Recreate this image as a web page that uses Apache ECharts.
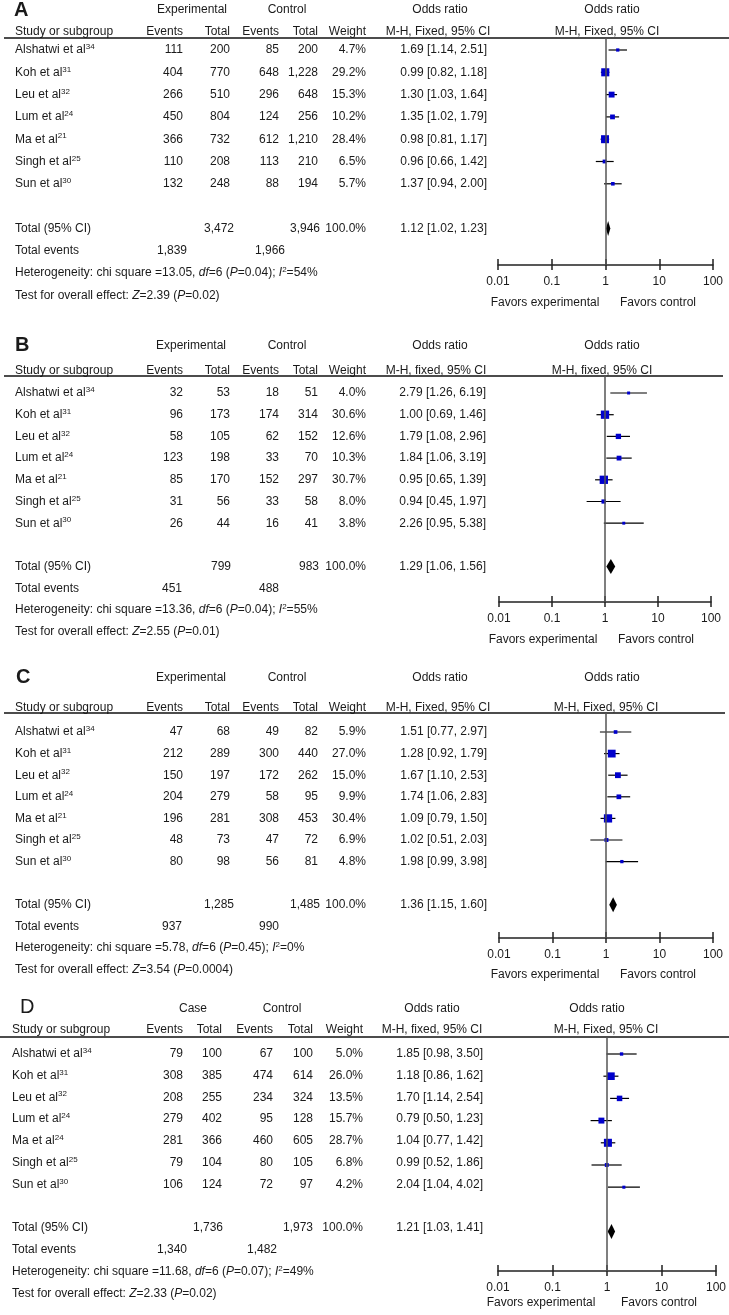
<!DOCTYPE html>
<html><head><meta charset="utf-8">
<script src="https://cdn.jsdelivr.net/npm/echarts@6/dist/echarts.min.js"></script>
<style>html,body{margin:0;padding:0;background:#fff}#c{width:729px;height:1315px}</style>
</head><body><div id="c"></div>
<script>
// ---------------- DATA ----------------
const studies = ['Alshatwi et al', 'Koh et al', 'Leu et al', 'Lum et al', 'Ma et al', 'Singh et al', 'Sun et al'];
const refsABC = ['34', '31', '32', '24', '21', '25', '30'];
const refsD = ['34', '31', '32', '24', '24', '25', '30'];
const tickLabels = ['0.01', '0.1', '1', '10', '100'];

// Panel A
const A_expEvents = [111, 404, 266, 450, 366, 110, 132];
const A_expTotal = [200, 770, 510, 804, 732, 208, 248];
const A_ctlEvents = [85, 648, 296, 124, 612, 113, 88];
const A_ctlTotal = [200, 1228, 648, 256, 1210, 210, 194];
const A_weight = [4.7, 29.2, 15.3, 10.2, 28.4, 6.5, 5.7];
const A_or = [1.69, 0.99, 1.30, 1.35, 0.98, 0.96, 1.37];
const A_lo = [1.14, 0.82, 1.03, 1.02, 0.81, 0.66, 0.94];
const A_hi = [2.51, 1.18, 1.64, 1.79, 1.17, 1.42, 2.00];
const A_totals = [3472, 3946];
const A_pooled = [1.12, 1.02, 1.23];
const A_totalEvents = [1839, 1966];
const A_het = ['13.05', '6', '0.04', '54'];
const A_test = ['2.39', '0.02'];

// Panel B
const B_expEvents = [32, 96, 58, 123, 85, 31, 26];
const B_expTotal = [53, 173, 105, 198, 170, 56, 44];
const B_ctlEvents = [18, 174, 62, 33, 152, 33, 16];
const B_ctlTotal = [51, 314, 152, 70, 297, 58, 41];
const B_weight = [4.0, 30.6, 12.6, 10.3, 30.7, 8.0, 3.8];
const B_or = [2.79, 1.00, 1.79, 1.84, 0.95, 0.94, 2.26];
const B_lo = [1.26, 0.69, 1.08, 1.06, 0.65, 0.45, 0.95];
const B_hi = [6.19, 1.46, 2.96, 3.19, 1.39, 1.97, 5.38];
const B_totals = [799, 983];
const B_pooled = [1.29, 1.06, 1.56];
const B_totalEvents = [451, 488];
const B_het = ['13.36', '6', '0.04', '55'];
const B_test = ['2.55', '0.01'];

// Panel C
const C_expEvents = [47, 212, 150, 204, 196, 48, 80];
const C_expTotal = [68, 289, 197, 279, 281, 73, 98];
const C_ctlEvents = [49, 300, 172, 58, 308, 47, 56];
const C_ctlTotal = [82, 440, 262, 95, 453, 72, 81];
const C_weight = [5.9, 27.0, 15.0, 9.9, 30.4, 6.9, 4.8];
const C_or = [1.51, 1.28, 1.67, 1.74, 1.09, 1.02, 1.98];
const C_lo = [0.77, 0.92, 1.10, 1.06, 0.79, 0.51, 0.99];
const C_hi = [2.97, 1.79, 2.53, 2.83, 1.50, 2.03, 3.98];
const C_totals = [1285, 1485];
const C_pooled = [1.36, 1.15, 1.60];
const C_totalEvents = [937, 990];
const C_het = ['5.78', '6', '0.45', '0'];
const C_test = ['3.54', '0.0004'];

// Panel D
const D_expEvents = [79, 308, 208, 279, 281, 79, 106];
const D_expTotal = [100, 385, 255, 402, 366, 104, 124];
const D_ctlEvents = [67, 474, 234, 95, 460, 80, 72];
const D_ctlTotal = [100, 614, 324, 128, 605, 105, 97];
const D_weight = [5.0, 26.0, 13.5, 15.7, 28.7, 6.8, 4.2];
const D_or = [1.85, 1.18, 1.70, 0.79, 1.04, 0.99, 2.04];
const D_lo = [0.98, 0.86, 1.14, 0.50, 0.77, 0.52, 1.04];
const D_hi = [3.50, 1.62, 2.54, 1.23, 1.42, 1.86, 4.02];
const D_totals = [1736, 1973];
const D_pooled = [1.21, 1.03, 1.41];
const D_totalEvents = [1340, 1482];
const D_het = ['11.68', '6', '0.07', '49'];
const D_test = ['2.33', '0.02'];

// ---------------- PANEL DEFINITIONS ----------------
const panels = [
  {letter: 'A', bold: true, grp1: 'Experimental', orHdr: 'M-H, Fixed, 95% CI', forestHdr: 'M-H, Fixed, 95% CI', refs: refsABC,
   expE: A_expEvents, expT: A_expTotal, ctlE: A_ctlEvents, ctlT: A_ctlTotal, wt: A_weight, or: A_or, lo: A_lo, hi: A_hi,
   totals: A_totals, pooled: A_pooled, totEv: A_totalEvents, het: A_het, test: A_test},
  {letter: 'B', bold: true, grp1: 'Experimental', orHdr: 'M-H, fixed, 95% CI', forestHdr: 'M-H, fixed, 95% CI', refs: refsABC,
   expE: B_expEvents, expT: B_expTotal, ctlE: B_ctlEvents, ctlT: B_ctlTotal, wt: B_weight, or: B_or, lo: B_lo, hi: B_hi,
   totals: B_totals, pooled: B_pooled, totEv: B_totalEvents, het: B_het, test: B_test},
  {letter: 'C', bold: true, grp1: 'Experimental', orHdr: 'M-H, Fixed, 95% CI', forestHdr: 'M-H, Fixed, 95% CI', refs: refsABC,
   expE: C_expEvents, expT: C_expTotal, ctlE: C_ctlEvents, ctlT: C_ctlTotal, wt: C_weight, or: C_or, lo: C_lo, hi: C_hi,
   totals: C_totals, pooled: C_pooled, totEv: C_totalEvents, het: C_het, test: C_test},
  {letter: 'D', bold: false, grp1: 'Case', orHdr: 'M-H, fixed, 95% CI', forestHdr: 'M-H, Fixed, 95% CI', refs: refsD,
   expE: D_expEvents, expT: D_expTotal, ctlE: D_ctlEvents, ctlT: D_ctlTotal, wt: D_weight, or: D_or, lo: D_lo, hi: D_hi,
   totals: D_totals, pooled: D_pooled, totEv: D_totalEvents, het: D_het, test: D_test}
];

// ---------------- LAYOUT (pixels) ----------------
const layouts = [
  {letterX: 14, letterY: 10, groupY: 10, headY: 32, lineY: 38, lineX1: 4, lineX2: 729, row0: 50, rowH: 22.3, axisY: 265, favorsY: 303,
   forestL: 498, forestR: 713, labelMargin: 11, studyX: 15, ev1: 183, tot1: 230, ev2: 279, tot2: 318, wt: 366, orR: 487,
   orHdr: 438, forestHdr: 607, grp1: 192, grp2: 287, orTop: 440, forestTop: 612, tt1: 234, tt2: 320, te1: 172, te2: 270, fav1: 545, fav2: 658},
  {letterX: 15, letterY: 345, groupY: 346, headY: 371, lineY: 376, lineX1: 4, lineX2: 723, row0: 393, rowH: 21.7, axisY: 602, favorsY: 640,
   forestL: 499, forestR: 711, labelMargin: 11, studyX: 15, ev1: 183, tot1: 230, ev2: 279, tot2: 318, wt: 366, orR: 486,
   orHdr: 436, forestHdr: 602, grp1: 191, grp2: 287, orTop: 440, forestTop: 612, tt1: 231, tt2: 319, te1: 172, te2: 269, fav1: 543, fav2: 656},
  {letterX: 16, letterY: 677, groupY: 678, headY: 708, lineY: 713, lineX1: 4, lineX2: 725, row0: 732, rowH: 21.6, axisY: 938, favorsY: 975,
   forestL: 499, forestR: 713, labelMargin: 11, studyX: 15, ev1: 183, tot1: 230, ev2: 279, tot2: 318, wt: 366, orR: 487,
   orHdr: 438, forestHdr: 606, grp1: 191, grp2: 287, orTop: 440, forestTop: 612, tt1: 234, tt2: 320, te1: 172, te2: 269, fav1: 545, fav2: 658},
  {letterX: 20, letterY: 1007, groupY: 1008, headY: 1030, lineY: 1037, lineX1: 0, lineX2: 729, row0: 1054, rowH: 22.2, axisY: 1271, favorsY: 1308,
   forestL: 498, forestR: 716, labelMargin: 11, studyX: 12, ev1: 183, tot1: 222, ev2: 273, tot2: 313, wt: 363, orR: 483,
   orHdr: 432, forestHdr: 606, grp1: 193, grp2: 282, orTop: 432, forestTop: 597, tt1: 223, tt2: 313, te1: 172, te2: 262, fav1: 541, fav2: 659}
];

const FONT = '"Liberation Sans", Arial, Helvetica, sans-serif';
const TXT = '#1a1a1a';
const SQ = 1.5; // square size factor (px per sqrt(weight%))
const fmtInt = v => v.toLocaleString('en-US');
const fmtOR = (o, l, h) => o.toFixed(2) + ' [' + l.toFixed(2) + ', ' + h.toFixed(2) + ']';
const RICH = {
  n: {fontSize: 12, fontFamily: FONT, color: TXT, lineHeight: 14},
  i: {fontSize: 12, fontFamily: FONT, color: TXT, fontStyle: 'italic', lineHeight: 14},
  sup: {fontSize: 8, fontFamily: FONT, color: TXT, lineHeight: 8, padding: [0, 0, 6, 0]}
};

const grids = [], xAxes = [], yAxes = [], series = [];
const logAxisBase = (g) => ({type: 'log', logBase: 10, gridIndex: g, min: 0.01, max: 100, position: 'bottom', splitLine: {show: false}});

panels.forEach((D, p) => {
  const L = layouts[p];
  const rowOf = y => (y - L.row0) / L.rowH;
  const yMin = rowOf(L.lineY);

  // text grid
  const textG = grids.length;
  grids.push({left: 0, width: 729, top: L.lineY, height: L.row0 + 12 * L.rowH - L.lineY});
  const xText = xAxes.length;
  xAxes.push({type: 'value', gridIndex: textG, min: 0, max: 729, show: false});
  const yText = yAxes.length;
  yAxes.push({type: 'value', gridIndex: textG, min: yMin, max: 12, inverse: true, show: false});

  // forest grid (main axis with inside ticks + labels)
  const forestG = grids.length;
  const fgrid = {left: L.forestL, width: L.forestR - L.forestL, top: L.lineY, height: L.axisY - L.lineY};
  grids.push(fgrid);
  const xMain = xAxes.length;
  xAxes.push(Object.assign(logAxisBase(forestG), {
    axisLine: {show: true, onZero: false, lineStyle: {color: '#222', width: 1.5}},
    axisTick: {show: true, inside: true, length: 6, lineStyle: {color: '#222', width: 1.5}},
    axisLabel: {show: true, margin: L.labelMargin, fontSize: 12, fontFamily: FONT, color: TXT,
      formatter: v => tickLabels[Math.round(Math.log10(v)) + 2]}
  }));
  const yForest = yAxes.length;
  yAxes.push({type: 'value', gridIndex: forestG, min: yMin, max: rowOf(L.axisY), inverse: true, show: false});

  // overlay grid: outside ticks below the axis line
  const tickG = grids.length;
  grids.push(Object.assign({}, fgrid));
  xAxes.push(Object.assign(logAxisBase(tickG), {
    axisLine: {show: false, onZero: false},
    axisTick: {show: true, inside: false, length: 5, lineStyle: {color: '#222', width: 1.5}},
    axisLabel: {show: false}
  }));
  yAxes.push({type: 'value', gridIndex: tickG, min: 0, max: 1, show: false});

  // ---- text cells ----
  const cells = [];
  const t = (x, y, text, align, extra) => cells.push(Object.assign({x: x, row: y, text: text, align: align}, extra || {}));
  t(L.letterX, rowOf(L.letterY), D.letter, 'left', {size: 20, weight: D.bold ? 'bold' : 'normal'});
  const gr = rowOf(L.groupY);
  t(L.grp1, gr, D.grp1, 'center');
  t(L.grp2, gr, 'Control', 'center');
  t(L.orTop, gr, 'Odds ratio', 'center');
  t(L.forestTop, gr, 'Odds ratio', 'center');
  const hr = rowOf(L.headY);
  t(L.studyX, hr, 'Study or subgroup', 'left');
  t(L.ev1, hr, 'Events', 'right');
  t(L.tot1, hr, 'Total', 'right');
  t(L.ev2, hr, 'Events', 'right');
  t(L.tot2, hr, 'Total', 'right');
  t(L.wt, hr, 'Weight', 'right');
  t(L.orHdr, hr, D.orHdr, 'center');
  t(L.forestHdr, hr, D.forestHdr, 'center');
  cells.push({line: true, x: L.lineX1, x2: L.lineX2, row: rowOf(L.lineY)});
  studies.forEach((s, i) => {
    t(L.studyX, i, '{n|' + s + '}{sup|' + D.refs[i] + '}', 'left', {rich: true});
    t(L.ev1, i, fmtInt(D.expE[i]), 'right');
    t(L.tot1, i, fmtInt(D.expT[i]), 'right');
    t(L.ev2, i, fmtInt(D.ctlE[i]), 'right');
    t(L.tot2, i, fmtInt(D.ctlT[i]), 'right');
    t(L.wt, i, D.wt[i].toFixed(1) + '%', 'right');
    t(L.orR, i, fmtOR(D.or[i], D.lo[i], D.hi[i]), 'right');
  });
  t(L.studyX, 8, 'Total (95% CI)', 'left');
  t(L.tt1, 8, fmtInt(D.totals[0]), 'right');
  t(L.tt2, 8, fmtInt(D.totals[1]), 'right');
  t(L.wt, 8, '100.0%', 'right');
  t(L.orR, 8, fmtOR(D.pooled[0], D.pooled[1], D.pooled[2]), 'right');
  t(L.studyX, 9, 'Total events', 'left');
  t(L.te1, 9, fmtInt(D.totEv[0]), 'center');
  t(L.te2, 9, fmtInt(D.totEv[1]), 'center');
  t(L.studyX, 10, '{n|Heterogeneity: chi square =' + D.het[0] + ', }{i|df}{n|=' + D.het[1] + ' (}{i|P}{n|=' + D.het[2] + '); }{i|I}{sup|2}{n|=' + D.het[3] + '%}', 'left', {rich: true});
  t(L.studyX, 11, '{n|Test for overall effect: }{i|Z}{n|=' + D.test[0] + ' (}{i|P}{n|=' + D.test[1] + ')}', 'left', {rich: true});
  const fr = rowOf(L.favorsY);
  t(L.fav1, fr, 'Favors experimental', 'center');
  t(L.fav2, fr, 'Favors control', 'center');

  series.push({
    type: 'custom', xAxisIndex: xText, yAxisIndex: yText, clip: false, silent: true,
    data: cells.map(c => [c.x, c.row]),
    renderItem: (params, api) => {
      const c = cells[params.dataIndex];
      const pt = api.coord([c.x, c.row]);
      if (c.line) {
        const p2 = api.coord([c.x2, c.row]);
        return {type: 'line', shape: {x1: pt[0], y1: pt[1], x2: p2[0], y2: p2[1]}, style: {stroke: '#111', lineWidth: 1.6}};
      }
      const style = {text: c.text, align: c.align, verticalAlign: 'middle', fill: TXT,
        fontSize: c.size || 12, fontFamily: FONT, fontWeight: c.weight || 'normal'};
      if (c.rich) style.rich = RICH;
      return {type: 'text', x: pt[0], y: pt[1], style: style};
    }
  });

  // ---- forest marks ----
  const fData = D.or.map((o, i) => [o, i, D.lo[i], D.hi[i], D.wt[i]]);
  fData.push([D.pooled[0], 8, D.pooled[1], D.pooled[2], 0]);
  series.push({
    type: 'custom', xAxisIndex: xMain, yAxisIndex: yForest, clip: false, silent: true, z: 3,
    data: fData,
    renderItem: (params, api) => {
      const o = api.value(0), r = api.value(1), lo = api.value(2), hi = api.value(3), w = api.value(4);
      const c = api.coord([o, r]), a = api.coord([lo, r]), b = api.coord([hi, r]);
      if (w > 0) {
        const s = SQ * Math.sqrt(w);
        return {type: 'group', children: [
          {type: 'line', shape: {x1: a[0], y1: a[1], x2: b[0], y2: b[1]}, style: {stroke: '#000', lineWidth: 1.2}},
          {type: 'rect', shape: {x: c[0] - s / 2, y: c[1] - s / 2, width: s, height: s}, style: {fill: '#0000CC'}}
        ]};
      }
      return {type: 'polygon', shape: {points: [[a[0], c[1]], [c[0], c[1] - 7.5], [b[0], c[1]], [c[0], c[1] + 7.5]]}, style: {fill: '#000'}};
    },
    markLine: {silent: true, symbol: 'none', label: {show: false}, animation: false,
      lineStyle: {color: '#555', width: 1.5, type: 'solid'}, data: [{xAxis: 1}]}
  });
});

const chart = echarts.init(document.getElementById('c'), null, {renderer: 'canvas'});
chart.setOption({animation: false, backgroundColor: '#fff', grid: grids, xAxis: xAxes, yAxis: yAxes, series: series});
</script>
</body></html>
